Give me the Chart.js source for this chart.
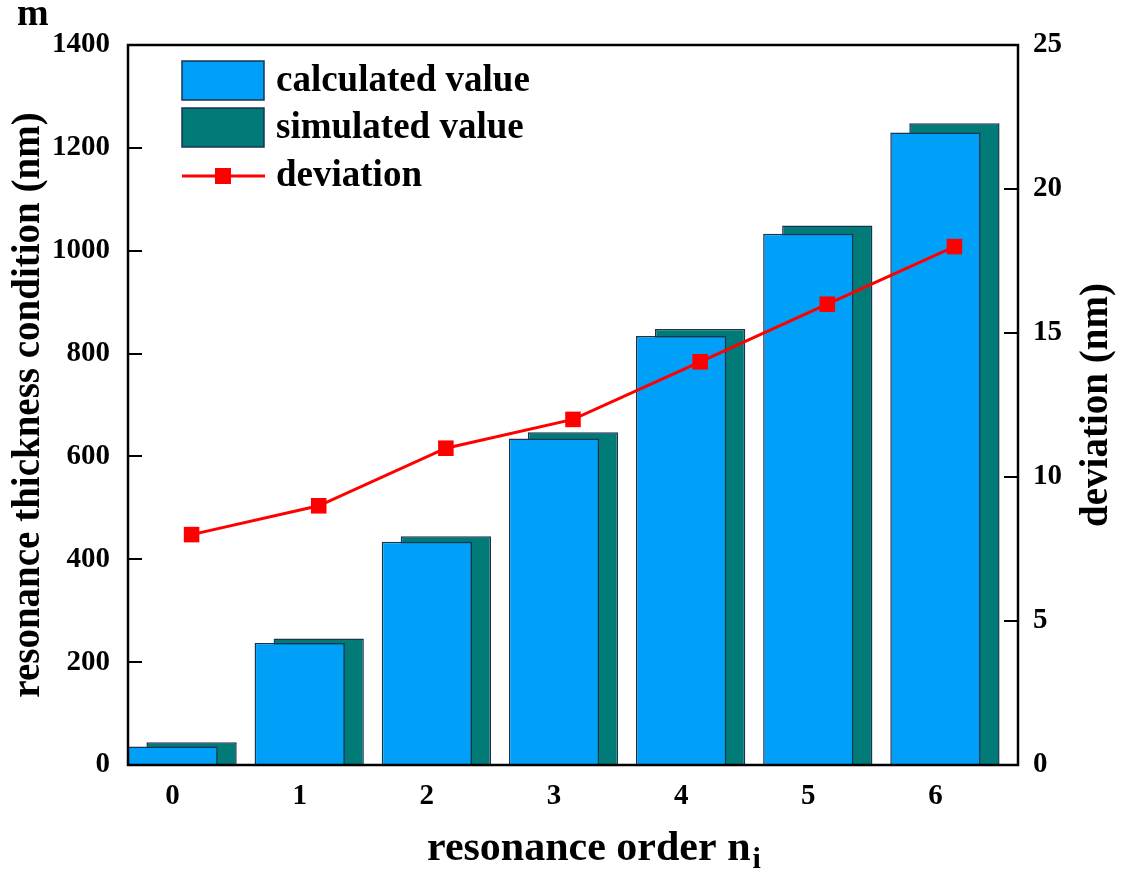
<!DOCTYPE html>
<html>
<head>
<meta charset="utf-8">
<script src="https://cdn.jsdelivr.net/npm/chart.js@4"></script>
<style>
  html, body { margin: 0; padding: 0; background: #fff; }
  #wrap { width: 1121px; height: 872px; }
</style>
</head>
<body>
<div id="wrap"><canvas id="myChart" width="1121" height="872"></canvas></div>
<script>
// resonance orders and thicknesses (nm)
const orders = ['0', '1', '2', '3', '4', '5', '6'];
const calculatedValue = [36, 237, 434, 635, 834, 1033, 1230];
const simulatedValue = [44, 246, 445, 647, 848, 1049, 1248];
const deviationValue = [8, 9, 11, 12, 14, 16, 18];

const thicknessRange = [0, 1400];
const thicknessStep = 200;
const deviationRange = [0, 25];
const deviationStep = 5;

const serif = "'Liberation Serif', 'Times New Roman', serif";
const calcShift = -19; // calculated bars sit a little left of the simulated ones

// shift the calculated bars to the left
const shiftPlugin = {
    id: 'shiftCalc',
    beforeDatasetDraw(chart, args) {
        if (args.index === 0) {
            chart.ctx.save();
            chart.ctx.translate(calcShift, 0);
        }
    },
    afterDatasetDraw(chart, args) {
        if (args.index === 0) chart.ctx.restore();
    }
};

// box frame, inward tick marks, legend and extra titles
const decorPlugin = {
    id: 'decor',
    afterDraw(chart) {
        const ctx = chart.ctx;
        const area = chart.chartArea;
        const y = chart.scales.y;
        const y2 = chart.scales.y2;

        ctx.save();
        ctx.strokeStyle = '#000';
        ctx.lineWidth = 2;
        y.ticks.forEach(t => {
            const py = Math.round(y.getPixelForValue(t.value));
            ctx.beginPath();
            ctx.moveTo(area.left, py);
            ctx.lineTo(area.left + 14, py);
            ctx.stroke();
        });
        y2.ticks.forEach(t => {
            const py = Math.round(y2.getPixelForValue(t.value));
            ctx.beginPath();
            ctx.moveTo(area.right, py);
            ctx.lineTo(area.right - 14, py);
            ctx.stroke();
        });
        ctx.lineWidth = 2.5;
        ctx.strokeRect(area.left, area.top, area.right - area.left, area.bottom - area.top);

        // legend
        const ds = chart.data.datasets;
        const lx = 182, tx = 276;
        ctx.lineWidth = 1.5;
        ctx.font = 'bold 37px ' + serif;
        ctx.textBaseline = 'middle';
        ctx.textAlign = 'left';
        [[ds[0], 61], [ds[1], 108]].forEach(([d, top]) => {
            ctx.fillStyle = d.backgroundColor;
            ctx.fillRect(lx, top, 82, 39);
            ctx.strokeStyle = d.borderColor;
            ctx.strokeRect(lx, top, 82, 39);
            ctx.fillStyle = '#000';
            ctx.fillText(d.label, tx, top + 20);
        });
        const ly = 176;
        ctx.strokeStyle = ds[2].borderColor;
        ctx.lineWidth = 3;
        ctx.beginPath();
        ctx.moveTo(lx, ly);
        ctx.lineTo(lx + 83, ly);
        ctx.stroke();
        ctx.fillStyle = ds[2].pointBackgroundColor;
        ctx.fillRect(lx + 33, ly - 8, 16, 16);
        ctx.fillStyle = '#000';
        ctx.fillText(ds[2].label, tx, ly);

        // right axis title, reading upward
        ctx.save();
        ctx.translate(1097, (area.top + area.bottom) / 2);
        ctx.rotate(-Math.PI / 2);
        ctx.textAlign = 'center';
        ctx.font = 'bold 39px ' + serif;
        ctx.fillText('deviation (nm)', 0, 0);
        ctx.restore();

        // bottom axis title with subscript
        ctx.font = 'bold 42px ' + serif;
        ctx.textBaseline = 'alphabetic';
        const main = 'resonance order n';
        ctx.fillText(main, 427, 860);
        const w = ctx.measureText(main).width;
        ctx.font = 'bold 30px ' + serif;
        ctx.fillText('i', 427 + w + 2, 868);

        // leftover heading letter in the corner
        ctx.font = 'bold 38px ' + serif;
        ctx.fillText('m', 17, 25);
        ctx.restore();
    }
};

const plainTick = v => String(v);

const ctx = document.getElementById('myChart').getContext('2d');
const myChart = new Chart(ctx, {
    type: 'bar',
    data: {
        labels: orders,
        datasets: [{
            label: 'calculated value',
            data: calculatedValue,
            backgroundColor: '#00a0f8',
            borderColor: '#1a3350',
            borderWidth: 1.5,
            yAxisID: 'y',
            order: 1
        }, {
            label: 'simulated value',
            data: simulatedValue,
            backgroundColor: '#007b78',
            borderColor: '#1a3350',
            borderWidth: 1.5,
            yAxisID: 'y',
            order: 2
        }, {
            type: 'line',
            label: 'deviation',
            data: deviationValue,
            borderColor: '#ff0000',
            borderWidth: 3,
            pointStyle: 'rect',
            pointRadius: 11,
            pointBackgroundColor: '#ff0000',
            pointBorderColor: '#ff0000',
            pointBorderWidth: 0,
            yAxisID: 'y2',
            order: 0
        }]
    },
    options: {
        responsive: false,
        devicePixelRatio: 1,
        animation: false,
        layout: { padding: { top: 45, left: 0, right: 0, bottom: 0 } },
        datasets: {
            bar: { grouped: false, barPercentage: 0.71, categoryPercentage: 1 }
        },
        plugins: {
            legend: { display: false },
            tooltip: { enabled: false }
        },
        scales: {
            x: {
                offset: true,
                grid: { display: false, drawTicks: false },
                border: { display: false },
                ticks: {
                    labelOffset: calcShift,
                    padding: 14,
                    color: '#000',
                    font: { family: serif, size: 29, weight: 'bold' }
                },
                afterFit(scale) { scale.height = 107; }
            },
            y: {
                position: 'left',
                min: thicknessRange[0],
                max: thicknessRange[1],
                grid: { display: false, drawTicks: false },
                border: { display: false },
                ticks: {
                    stepSize: thicknessStep,
                    padding: 18,
                    color: '#000',
                    callback: plainTick,
                    font: { family: serif, size: 29, weight: 'bold' }
                },
                title: {
                    display: true,
                    text: 'resonance thickness condition (nm)',
                    color: '#000',
                    padding: { top: 6, bottom: 0 },
                    font: { family: serif, size: 39, weight: 'bold' }
                },
                afterFit(scale) { scale.width = 128; }
            },
            y2: {
                position: 'right',
                min: deviationRange[0],
                max: deviationRange[1],
                grid: { display: false, drawTicks: false },
                border: { display: false },
                ticks: {
                    stepSize: deviationStep,
                    padding: 15,
                    color: '#000',
                    callback: plainTick,
                    font: { family: serif, size: 29, weight: 'bold' }
                },
                afterFit(scale) { scale.width = 103; }
            }
        }
    },
    plugins: [shiftPlugin, decorPlugin]
});
</script>
</body>
</html>
